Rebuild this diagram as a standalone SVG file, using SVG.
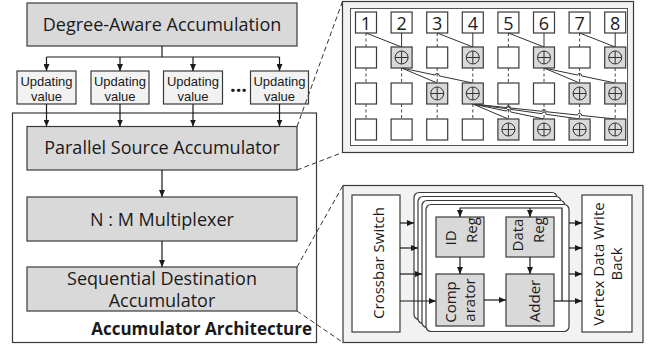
<svg xmlns="http://www.w3.org/2000/svg" width="652" height="348" viewBox="0 0 652 348">
<style>
text{font-family:"Open Sans","Liberation Sans",sans-serif;fill:#1a1a1a}
.u{font-family:"Liberation Sans","Open Sans",sans-serif;font-size:13px}
.g{fill:#d9d9d9;stroke:#3a3a3a;stroke-width:1.2}
.w{fill:#fff;stroke:#3a3a3a;stroke-width:1.2}
.lg{fill:#f2f2f2;stroke:#3a3a3a;stroke-width:1.2}
.ln{fill:none;stroke:#1a1a1a;stroke-width:1.2}
.ar{fill:none;stroke:#1a1a1a;stroke-width:1.2;marker-end:url(#ah)}
.th{fill:none;stroke:#333;stroke-width:1}
.dd{fill:none;stroke:#444;stroke-width:1;stroke-dasharray:3,2.5}
.dl{fill:none;stroke:#333;stroke-width:1;stroke-dasharray:5,3}
.c{text-anchor:middle}
</style>
<defs>
<marker id="ah" markerWidth="7" markerHeight="6" refX="7" refY="3" orient="auto" markerUnits="userSpaceOnUse">
<path d="M0,0 L7,3 L0,6 z" fill="#1a1a1a"/>
</marker>
<g id="op"><circle r="6.5" fill="none" stroke="#333" stroke-width="1"/><path d="M-6.5,0H6.5M0,-6.5V6.5" stroke="#333" stroke-width="1"/></g>
</defs>

<!-- Left architecture -->
<g id="arch-box"><rect class="w" x="12.5" y="113" width="304" height="229.5"/>
<text x="312" y="335" style="font-size:17px;font-weight:bold;text-anchor:end">Accumulator Architecture</text></g>
<g id="degree"><rect class="g" x="27" y="3" width="270" height="43"/><text class="c" x="162" y="31" style="font-size:18px">Degree-Aware Accumulation</text></g>
<g id="uv1"><rect class="lg" x="17" y="71" width="59" height="33"/><text class="c u" x="46.5" y="85.5">Updating</text><text class="c u" x="46.5" y="100.5">value</text></g>
<g id="uv2"><rect class="lg" x="91" y="71" width="58" height="33"/><text class="c u" x="120" y="85.5">Updating</text><text class="c u" x="120" y="100.5">value</text></g>
<g id="uv3"><rect class="lg" x="163.5" y="71" width="59" height="33"/><text class="c u" x="193" y="85.5">Updating</text><text class="c u" x="193" y="100.5">value</text></g>
<g id="uv4"><rect class="lg" x="250.5" y="71" width="58" height="33"/><text class="c u" x="279.5" y="85.5">Updating</text><text class="c u" x="279.5" y="100.5">value</text></g>
<g id="dots"><text class="c" x="238.5" y="92" style="font-size:20px;font-weight:bold">...</text></g>
<g id="psa"><rect class="g" x="27" y="126.5" width="270" height="43.5"/><text class="c" x="162" y="154" style="font-size:18px">Parallel Source Accumulator</text></g>
<g id="mux"><rect class="g" x="27" y="197" width="270" height="44"/><text class="c" x="162" y="226" style="font-size:18px">N : M Multiplexer</text></g>
<g id="sda"><rect class="g" x="27" y="267" width="270" height="44"/><text class="c" x="162" y="285" style="font-size:18px">Sequential Destination</text><text class="c" x="162" y="307" style="font-size:18px">Accumulator</text></g>

<!-- Top right panel -->
<g id="psa-detail">
<rect class="lg" x="342.5" y="1.5" width="291" height="151"/>
<rect x="350.5" y="8.5" width="277" height="137" fill="#fff" stroke="#555" stroke-width="1"/>
</g>
<g id="nums" style="font-size:18px">
<rect class="w" x="355.5" y="12" width="21" height="21"/><text class="c" x="366" y="30">1</text>
<rect class="w" x="391.1" y="12" width="21" height="21"/><text class="c" x="401.6" y="30">2</text>
<rect class="w" x="426.7" y="12" width="21" height="21"/><text class="c" x="437.2" y="30">3</text>
<rect class="w" x="462.3" y="12" width="21" height="21"/><text class="c" x="472.8" y="30">4</text>
<rect class="w" x="497.9" y="12" width="21" height="21"/><text class="c" x="508.4" y="30">5</text>
<rect class="w" x="533.5" y="12" width="21" height="21"/><text class="c" x="544" y="30">6</text>
<rect class="w" x="569.1" y="12" width="21" height="21"/><text class="c" x="579.6" y="30">7</text>
<rect class="w" x="604.7" y="12" width="21" height="21"/><text class="c" x="615.2" y="30">8</text>
</g>
<g id="grid-connectors">
<path class="dd" d="M366,33V47M437.2,33V47M508.4,33V47M579.6,33V47"/>
<path class="th" d="M401.6,33V47M472.8,33V47M544,33V47M615.2,33V47"/>
<path class="th" d="M366,33L401.6,47M437.2,33L472.8,47M508.4,33L544,47M579.6,33L615.2,47"/>
<path class="dd" d="M366,68V83M401.6,68V83M437.2,68V83M472.8,68V83M508.4,68V83M544,68V83M579.6,68V83M615.2,68V83"/>
<path class="dd" d="M366,104V119M401.6,104V119M437.2,104V119M472.8,104V119M508.4,104V119M544,104V119M579.6,104V119M615.2,104V119"/>
<path class="th" d="M401.6,68L437.2,83M401.6,68L435.2,75.08A2,2 0 0 1 439.2,75.92L472.8,83"/>
<path class="th" d="M544,68L579.6,83M544,68L577.6,75.08A2,2 0 0 1 581.6,75.92L615.2,83"/>
<path class="th" d="M472.8,104L508.4,119"/>
<path class="th" d="M472.8,104L506.4,111.08A2,2 0 0 1 510.4,111.92L544,119"/>
<path class="th" d="M472.8,104L506.4,108.72A2,2 0 0 1 510.4,109.28L542,113.72A2,2 0 0 1 546,114.28L579.6,119"/>
<path class="th" d="M472.8,104L506.4,107.54A2,2 0 0 1 510.4,107.96L542,111.29A2,2 0 0 1 546,111.71L577.6,115.04A2,2 0 0 1 581.6,115.46L615.2,119"/>
</g>
<g id="row1">
<rect class="w" x="355.5" y="47" width="21" height="21"/>
<rect class="g" x="391.1" y="47" width="21" height="21"/><use href="#op" x="401.6" y="57.5"/>
<rect class="w" x="426.7" y="47" width="21" height="21"/>
<rect class="g" x="462.3" y="47" width="21" height="21"/><use href="#op" x="472.8" y="57.5"/>
<rect class="w" x="497.9" y="47" width="21" height="21"/>
<rect class="g" x="533.5" y="47" width="21" height="21"/><use href="#op" x="544" y="57.5"/>
<rect class="w" x="569.1" y="47" width="21" height="21"/>
<rect class="g" x="604.7" y="47" width="21" height="21"/><use href="#op" x="615.2" y="57.5"/>
</g>
<g id="row2">
<rect class="w" x="355.5" y="83" width="21" height="21"/>
<rect class="w" x="391.1" y="83" width="21" height="21"/>
<rect class="g" x="426.7" y="83" width="21" height="21"/><use href="#op" x="437.2" y="93.5"/>
<rect class="g" x="462.3" y="83" width="21" height="21"/><use href="#op" x="472.8" y="93.5"/>
<rect class="w" x="497.9" y="83" width="21" height="21"/>
<rect class="w" x="533.5" y="83" width="21" height="21"/>
<rect class="g" x="569.1" y="83" width="21" height="21"/><use href="#op" x="579.6" y="93.5"/>
<rect class="g" x="604.7" y="83" width="21" height="21"/><use href="#op" x="615.2" y="93.5"/>
</g>
<g id="row3">
<rect class="w" x="355.5" y="119" width="21" height="21"/>
<rect class="w" x="391.1" y="119" width="21" height="21"/>
<rect class="w" x="426.7" y="119" width="21" height="21"/>
<rect class="w" x="462.3" y="119" width="21" height="21"/>
<rect class="g" x="497.9" y="119" width="21" height="21"/><use href="#op" x="508.4" y="129.5"/>
<rect class="g" x="533.5" y="119" width="21" height="21"/><use href="#op" x="544" y="129.5"/>
<rect class="g" x="569.1" y="119" width="21" height="21"/><use href="#op" x="579.6" y="129.5"/>
<rect class="g" x="604.7" y="119" width="21" height="21"/><use href="#op" x="615.2" y="129.5"/>
</g>

<!-- Bottom right panel -->
<g id="sda-detail"><rect class="lg" x="343" y="185.5" width="300" height="157"/></g>
<g id="crossbar"><rect class="w" x="352" y="195" width="48" height="137"/>
<text class="c" transform="translate(384,263) rotate(-90)" style="font-size:15px">Crossbar Switch</text></g>
<g id="writeback"><rect class="w" x="582" y="195" width="50" height="137"/>
<text class="c" transform="translate(604,264) rotate(-90)" style="font-size:15px">Vertex Data Write</text>
<text class="c" transform="translate(622,264) rotate(-90)" style="font-size:15px">Back</text></g>
<g id="pe-stack">
<rect class="w" x="414" y="192.5" width="143" height="127" rx="5"/>
<rect class="w" x="418" y="196.5" width="143" height="127" rx="5"/>
<rect class="w" x="422" y="200.5" width="143" height="127" rx="5"/>
<rect class="w" x="426" y="204.5" width="143" height="127" rx="5"/>
</g>
<g id="idreg"><rect class="g" x="436" y="217" width="48" height="40"/>
<text class="c" transform="translate(456,238) rotate(-90)" style="font-size:15px">ID</text>
<text class="c" transform="translate(477,230) rotate(-90)" style="font-size:15px">Reg</text></g>
<g id="datareg"><rect class="g" x="506" y="217" width="48" height="40"/>
<text class="c" transform="translate(523,235) rotate(-90)" style="font-size:15px">Data</text>
<text class="c" transform="translate(544,230) rotate(-90)" style="font-size:15px">Reg</text></g>
<g id="comparator"><rect class="g" x="436" y="274" width="48" height="52"/>
<text class="c" transform="translate(456,302) rotate(-90)" style="font-size:15px">Comp</text>
<text class="c" transform="translate(475,300) rotate(-90)" style="font-size:15px">arator</text></g>
<g id="adder"><rect class="g" x="506" y="274" width="48" height="52"/>
<text class="c" transform="translate(540,301) rotate(-90)" style="font-size:15px">Adder</text></g>

<g id="connectors">
<path class="ln" d="M162,46V57M46.5,57H279.5"/>
<path class="ar" d="M46.5,57V71"/><path class="ar" d="M120,57V71"/><path class="ar" d="M193,57V71"/><path class="ar" d="M279.5,57V71"/>
<path class="ar" d="M46.5,104V126.5"/><path class="ar" d="M120,104V126.5"/><path class="ar" d="M193,104V126.5"/><path class="ar" d="M279.5,104V126.5"/>
<path class="ar" d="M162,170V197"/>
<path class="ar" d="M162,241V267"/>
<path class="dl" d="M297,126.5L342.5,1.5"/>
<path class="dl" d="M297,170L342.5,152.5"/>
<path class="dl" d="M297,267L343,185.5"/>
<path class="dl" d="M297,311L343,342.5"/>
<path class="ar" d="M400,223H414"/><path class="ar" d="M400,248H418"/><path class="ar" d="M400,274H422"/><path class="ar" d="M400,301H436"/>
<path class="ar" d="M569,223H582"/><path class="ar" d="M569,248H582"/><path class="ar" d="M569,274H582"/><path class="ar" d="M554,301H582"/>
<path class="ar" d="M460,257V274"/><path class="ar" d="M530,257V274"/><path class="ar" d="M484,300H506"/>
<path class="ar" d="M562,301V208H460V217"/><path class="ar" d="M530,208V217"/>
</g>
</svg>
